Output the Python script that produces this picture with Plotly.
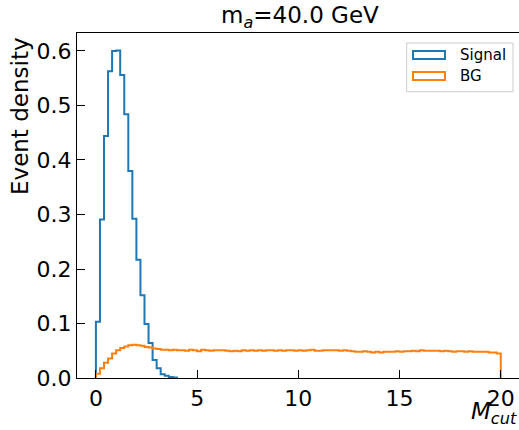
import numpy as np
import plotly.graph_objects as go

# ---------------- data ----------------
signal_range = (0.0, 4.0)
signal_density = [0.103, 0.291, 0.444, 0.563, 0.600, 0.601, 0.556, 0.484, 0.380, 0.292,
                  0.217, 0.152, 0.099, 0.064, 0.033, 0.018, 0.007, 0.004, 0.002, 0.001]

bg_range = (0.0, 20.0)
bg_density = [0.008, 0.018, 0.028, 0.036, 0.045, 0.051, 0.055, 0.058, 0.060, 0.061,
              0.060, 0.059, 0.057, 0.056, 0.054, 0.053,
              0.052, 0.052, 0.051, 0.052, 0.051, 0.051, 0.050, 0.052, 0.051,
              0.049, 0.052, 0.051, 0.050, 0.051, 0.051, 0.051, 0.050, 0.049, 0.050,
              0.049, 0.051, 0.050, 0.051, 0.050, 0.051, 0.050, 0.051, 0.051, 0.050,
              0.051, 0.050, 0.051, 0.051, 0.050,
              0.051, 0.050, 0.051, 0.052, 0.050, 0.050, 0.051, 0.051, 0.051, 0.051,
              0.050, 0.051, 0.050, 0.049, 0.048, 0.048, 0.049, 0.048, 0.047, 0.048,
              0.047, 0.048, 0.048, 0.048, 0.049,
              0.048, 0.049, 0.049, 0.050, 0.049, 0.051, 0.050, 0.050, 0.050, 0.050,
              0.049, 0.050, 0.049, 0.048, 0.049, 0.049, 0.048, 0.049, 0.048, 0.048,
              0.048, 0.048, 0.047, 0.047, 0.045]

series_names = ["Signal", "BG"]
series_colors = ["#1f77b4", "#ff7f0e"]
x_ticks = [0, 5, 10, 15, 20]
y_ticks = [0.0, 0.1, 0.2, 0.3, 0.4, 0.5, 0.6]
title_text = "m<sub><i>a</i></sub>=40.0 GeV"
ylabel_text = "Event density"
xlabel_text = "<i>M</i><sub><i>cut</i></sub>"

# ---------------- layout constants ----------------
W, H = 519, 430
L, R, T, B = 77, 0, 33, 52
PW, PH = W - L - R, H - T - B
FONT = "DejaVu Sans"


def px(xp):
    return (xp - L) / PW


def py(yp):
    return (H - B - yp) / PH


def step_xy(lo, hi, vals):
    n = len(vals)
    edges = np.linspace(lo, hi, n + 1)
    xs = [edges[0]] + list(edges[:-1]) + [edges[-1]]
    ys = [0.0] + list(vals) + [0.0]
    return xs, ys


fig = go.Figure()
for (lo, hi), vals, name, col in [(signal_range, signal_density, series_names[0], series_colors[0]),
                                  (bg_range, bg_density, series_names[1], series_colors[1])]:
    xs, ys = step_xy(lo, hi, vals)
    fig.add_trace(go.Scatter(x=xs, y=ys, mode="lines", line=dict(shape="hv", color=col, width=2),
                             name=name, showlegend=False, hoverinfo="skip"))

axis_common = dict(showgrid=False, zeroline=False, ticks="inside", ticklen=8, tickwidth=1.3,
                   tickcolor="black", linecolor="black", linewidth=1.3, showline=True,
                   tickfont=dict(family=FONT, size=22, color="black"))

fig.update_layout(
    width=W, height=H,
    margin=dict(l=L, r=R, t=T, b=B, pad=0),
    paper_bgcolor="white", plot_bgcolor="white",
    showlegend=False,
    xaxis=dict(range=[-0.934, 20.9], tickvals=x_ticks, ticktext=[str(v) for v in x_ticks],
               mirror=True, **axis_common),
    yaxis=dict(range=[0, 0.633], tickvals=y_ticks, ticktext=[f"{v:.1f}" for v in y_ticks],
               mirror=False, **axis_common),
)

# title & axis labels
fig.add_annotation(text=title_text, xref="paper", yref="paper", x=px(300), y=py(34),
                   xanchor="center", yanchor="bottom", showarrow=False,
                   font=dict(family=FONT, size=23, color="black"))
fig.add_annotation(text=ylabel_text, xref="paper", yref="paper", x=px(20), y=py(35),
                   xanchor="center", yanchor="top", textangle=-90, showarrow=False,
                   font=dict(family=FONT, size=23, color="black"))
fig.add_annotation(text=xlabel_text, xref="paper", yref="paper", x=px(519), y=py(430),
                   xanchor="right", yanchor="bottom", showarrow=False,
                   font=dict(family=FONT, size=23, color="black"))

# legend (drawn manually to mimic matplotlib patches)
fig.add_shape(type="rect", xref="paper", yref="paper", x0=px(406.7), x1=px(513), y0=py(91.7), y1=py(43),
              line=dict(color="#cccccc", width=1), fillcolor="rgba(255,255,255,0.8)", layer="above")
for i, (name, col) in enumerate(zip(series_names, series_colors)):
    cy = 55 + 21 * i
    fig.add_shape(type="rect", xref="paper", yref="paper", x0=px(413), x1=px(445),
                  y0=py(cy + 4), y1=py(cy - 4), line=dict(color=col, width=2),
                  fillcolor="rgba(0,0,0,0)", layer="above")
    fig.add_annotation(text=name, xref="paper", yref="paper", x=px(458), y=py(cy),
                       xanchor="left", yanchor="middle", showarrow=False,
                       font=dict(family=FONT, size=15, color="black"))

fig.write_html("out.html")
